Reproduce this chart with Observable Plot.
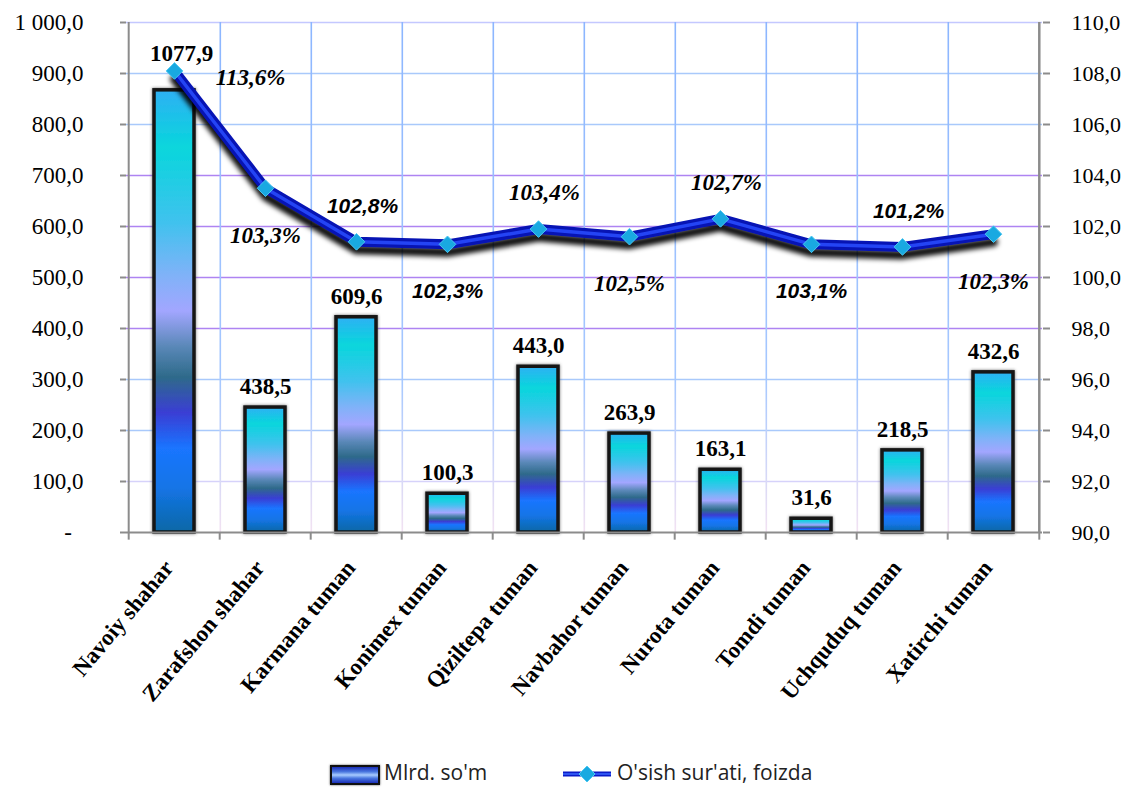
<!DOCTYPE html>
<html><head><meta charset="utf-8">
<script src="https://cdn.jsdelivr.net/npm/d3@7"></script>
<script src="https://cdn.jsdelivr.net/npm/@observablehq/plot@0.6"></script>
<style>
body{margin:0;background:#fff;}
#wrap{position:relative;width:1129px;height:791px;overflow:hidden;}
#legend{position:absolute;left:0;top:750px;width:1129px;height:41px;font-family:"Open Sans",sans-serif;font-size:21px;color:#222;}
.sw-bar{position:absolute;left:330px;top:15px;width:46px;height:16px;border:2px solid #111;box-shadow:0 0 2px #555;
 background:linear-gradient(to bottom,#1b2fb8 0%,#4a78e0 30%,#a8ccff 50%,#4a78e0 70%,#1b2fb8 100%);}
.lg-t1{position:absolute;left:384px;top:8px;}
.lg-t2{position:absolute;left:617px;top:8px;}
.sw-line{position:absolute;left:563px;top:13px;width:48px;height:22px;}
</style></head><body>
<div id="wrap"><div id="chart"></div>
<div id="legend">
 <div class="sw-bar"></div><div class="lg-t1">Mlrd. so'm</div>
 <svg class="sw-line" width="48" height="22"><line x1="0" y1="11" x2="48" y2="11" stroke="#0a1cc8" stroke-width="5"/><line x1="0" y1="11" x2="48" y2="11" stroke="#3a66ff" stroke-width="1.5"/><path d="M24,3 L32,11 L24,19 L16,11 Z" fill="#19a9e1" stroke="#4cc8f0"/></svg>
 <div class="lg-t2">O'sish sur'ati, foizda</div>
</div></div>
<script>
const categories = ["Navoiy shahar","Zarafshon shahar","Karmana tuman","Konimex tuman","Qiziltepa tuman","Navbahor tuman","Nurota tuman","Tomdi tuman","Uchquduq tuman","Xatirchi tuman"];
const bars = [867, 245, 422, 76, 325, 194, 123, 27, 161, 314];
const barLabels = ["1077,9","438,5","609,6","100,3","443,0","263,9","163,1","31,6","218,5","432,6"];
const rates = [108.1, 103.5, 101.4, 101.3, 101.9, 101.6, 102.3, 101.3, 101.2, 101.7];
const rateLabels = ["113,6%","103,3%","102,8%","102,3%","103,4%","102,5%","102,7%","103,1%","101,2%","102,3%"];
const leftTicks = [0,100,200,300,400,500,600,700,800,900,1000];
const rightMin = 90, rightMax = 110;

const toLeft = r => (r - rightMin) * 1000 / (rightMax - rightMin);
const loc = d3.formatLocale({decimal:",", thousands:" ", grouping:[3], currency:["",""]});
const f1 = loc.format(",.1f");
const leftFmt = v => v === 0 ? "-\u2007" : f1(v);
const rightFmt = v => f1(rightMin + v * (rightMax - rightMin) / 1000);

const data = categories.map((c,i)=>({cat:c, value:bars[i], label:barLabels[i], rate:rates[i], rateLabel:rateLabels[i], i}));

const W = 1129, H = 750, mL = 126, mR = 87, mT = 22, mB = 218;
const step = (W - mL - mR) / categories.length;

const hColor = v => (v >= 400 && v <= 700) ? "#ae84f2" : v === 1000 ? "#c4c8ff" : v === 100 ? "#d6d2fa" : "#a9c9fb";
const sansIdx = new Set([2,3,7,8]);
const placement = i => i === 0 ? "right" : (i % 2 ? "below" : "above");
const offs = {right:[76,7], below:[0,47], above:[6,-36]};
const nearLine = d => toLeft(d.rate) - d.value < 100;

const rateMarks = [];
for (const p of Object.keys(offs)) for (const sans of [false,true]) {
  rateMarks.push(Plot.text(data, {filter: d => placement(d.i)===p && sansIdx.has(d.i)===sans,
    x:"cat", y: d=>toLeft(d.rate), text:"rateLabel", dx: offs[p][0], dy: offs[p][1],
    fontFamily: sans ? "Liberation Sans" : "Liberation Serif", fontWeight:"bold", fontStyle:"italic",
    fontSize: sans ? 21 : 23, fill:"#000"}));
}

const svg = Plot.plot({
  width: W, height: H, marginLeft: mL, marginRight: mR, marginTop: mT, marginBottom: mB,
  style: {fontFamily: "Liberation Serif", fontSize: "23px", color: "#000", background: "#fff"},
  x: {domain: categories, paddingInner: 0.56, paddingOuter: 0.28, axis: null},
  y: {domain: [0, 1000], axis: null},
  marks: [
    Plot.ruleY(leftTicks.slice(1), {y: d=>d, stroke: d=>hColor(d), strokeWidth: 1.6}),
    Plot.ruleX(categories.slice(0,-1), {x: d=>d, dx: step/2, stroke: "url(#vgrid)", strokeWidth: 1.6}),
    Plot.barY(data, {x:"cat", y:"value", fill:"url(#bargrad)", stroke:"#141414", strokeWidth:3.5}),
    Plot.ruleY([0], {stroke:"#8c8c8c", strokeWidth:2}),
    Plot.ruleX(categories, {x:d=>d, dx: -step/2, y1: 0, y2: -15, stroke:"#8c8c8c", strokeWidth:2}),
    Plot.ruleX([categories[categories.length-1]], {x:d=>d, dx: step/2, y1: -15, y2: 0, stroke:"#8c8c8c", strokeWidth:2}),
    Plot.ruleX([categories[0]], {x:d=>d, dx: -step/2, y1: 0, y2: 1000, stroke:"#8c8c8c", strokeWidth:2}),
    Plot.ruleX([categories[categories.length-1]], {x:d=>d, dx: step/2, y1: 0, y2: 1000, stroke:"#8c8c8c", strokeWidth:2.5}),
    Plot.axisY(leftTicks, {anchor:"left", label:null, tickSize:6, tickPadding:37, tickFormat:leftFmt, stroke:"#8c8c8c", fill:"#000", fontSize:23, strokeWidth:2}),
    Plot.axisY(leftTicks, {anchor:"right", label:null, tickSize:7, tickPadding:22, tickFormat:rightFmt, stroke:"#8c8c8c", fill:"#000", fontSize:22, strokeWidth:2}),
    Plot.text(categories, {x:d=>d, frameAnchor:"bottom", dy:36, text:d=>d, rotate:-50, textAnchor:"end",
      fontWeight:"bold", fontSize:23, fontFamily:"Liberation Serif", fill:"#000"}),
    Plot.line(data, {x:"cat", y:d=>toLeft(d.rate), stroke:"#000", strokeWidth:9, dy:8, strokeOpacity:0.95}),
    Plot.line(data, {x:"cat", y:d=>toLeft(d.rate), stroke:"#0714b4", strokeWidth:10}),
    Plot.line(data, {x:"cat", y:d=>toLeft(d.rate), stroke:"#2444f4", strokeWidth:3.5}),
    Plot.dot(data, {x:"cat", y:d=>toLeft(d.rate), symbol:"diamond2", r:7.5, fill:"#19a9e1", stroke:"#4cc8f0", strokeWidth:1}),
    Plot.text(data, {filter: d=>!nearLine(d), x:"cat", y:"value", text:"label", dy:-21, fontWeight:"bold", fontSize:23, fontFamily:"Liberation Serif", fill:"#000"}),
    Plot.text(data, {filter: d=>nearLine(d), x:"cat", y:d=>toLeft(d.rate), text:"label", dx:7, dy:-17, fontWeight:"bold", fontSize:23, fontFamily:"Liberation Serif", fill:"#000"}),
    ...rateMarks
  ]
});

const defs = d3.select(svg).insert("defs", ":first-child");
const bg = defs.append("linearGradient").attr("id","bargrad").attr("x1",0).attr("y1",0).attr("x2",0).attr("y2",1);
[[0,"#2fb0f4"],[0.13,"#08d6dc"],[0.3,"#40c2ee"],[0.42,"#80b2f8"],[0.5,"#a2a6ff"],[0.58,"#5a88b8"],[0.65,"#2e6a8a"],[0.73,"#3a3ed4"],[0.81,"#1a74ff"],[0.9,"#1474e6"],[1,"#0a68a6"]]
  .forEach(([o,c])=>bg.append("stop").attr("offset",o).attr("stop-color",c));
const vg = defs.append("linearGradient").attr("id","vgrid").attr("gradientUnits","userSpaceOnUse").attr("x1",0).attr("y1",mT).attr("x2",0).attr("y2",H-mB);
[[0,"#8cb6ff"],[0.7,"#a6c8ff"],[1,"#f2e2f2"]].forEach(([o,c])=>vg.append("stop").attr("offset",o).attr("stop-color",c));
const fb = defs.append("filter").attr("id","lblur").attr("filterUnits","userSpaceOnUse").attr("x",0).attr("y",0).attr("width",W).attr("height",H);
fb.append("feGaussianBlur").attr("stdDeviation",2.8);
const fs = defs.append("filter").attr("id","glow").attr("filterUnits","userSpaceOnUse").attr("x",0).attr("y",0).attr("width",W).attr("height",H);
fs.append("feDropShadow").attr("dx",0).attr("dy",0).attr("stdDeviation",1.5).attr("flood-color","#444").attr("flood-opacity",0.8);
const lines = d3.select(svg).selectAll('g[aria-label="line"]').nodes();
if (lines.length) d3.select(lines[0]).attr("filter","url(#lblur)");
const barsG = d3.select(svg).selectAll('g[aria-label="bar"]').nodes();
if (barsG.length) d3.select(barsG[0]).attr("filter","url(#glow)");
document.getElementById("chart").appendChild(svg);
</script>
</body></html>
